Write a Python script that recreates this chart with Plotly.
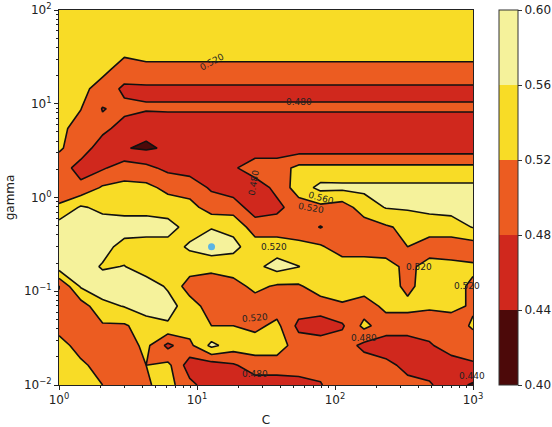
import numpy as np
import plotly.graph_objects as go

# Grid of hyper-parameters
C_range = np.logspace(0, 3, 20).tolist()
gamma_range = np.logspace(-2, 2, 20).tolist()

# Mean scores, one row per gamma value (bottom gamma=0.01 -> top gamma=100)
scores = [
    [.54, .54, .52, .50, .515, .535, .49, .46, .46, .46, .46, .465, .478, .50, .50, .49, .49, .485, .455, .435],
    [.54, .53, .50, .50, .52, .53, .46, .46, .475, .50, .50, .50, .49, .50, .50, .49, .47, .46, .46, .475],
    [.54, .50, .50, .50, .53, .47, .51, .57, .54, .54, .54, .50, .50, .50, .47, .46, .46, .475, .50, .50],
    [.50, .515, .515, .515, .54, .555, .54, .52, .52, .51, .53, .47, .46, .475, .53, .50, .50, .50, .50, .525],
    [.485, .50, .55, .562, .58, .575, .54, .50, .50, .50, .50, .50, .50, .515, .50, .53, .53, .525, .53, .515],
    [.479, .565, .58, .58, .58, .555, .50, .50, .505, .53, .515, .515, .54, .54, .54, .54, .51, .54, .53, .515],
    [.58, .58, .556, .561, .54, .54, .54, .53, .54, .55, .575, .561, .54, .54, .54, .535, .51, .535, .53, .525],
    [.58, .58, .575, .545, .54, .545, .565, .585, .57, .54, .54, .53, .525, .50, .50, .50, .52, .50, .50, .50],
    [.58, .58, .58, .58, .58, .575, .545, .5575, .55, .50, .50, .50, .478, .50, .50, .515, .53, .54, .54, .562],
    [.525, .565, .55, .545, .545, .54, .535, .50, .50, .46, .47, .50, .51, .50, .54, .562, .565, .57, .575, .58],
    [.50, .49, .525, .53, .53, .51, .50, .475, .46, .46, .49, .54, .57, .569, .569, .569, .569, .569, .569, .569],
    [.50, .465, .475, .50, .49, .47, .465, .465, .475, .50, .50, .531, .531, .531, .531, .531, .531, .531, .531, .531],
    [.525, .50, .46, .442, .435, .445, .46] + [.459] * 13,
    [.53, .505, .49, .465, .449] + [.458] * 15,
    [.53, .521, .478, .49] + [.4844] * 16,
    [.53, .53, .505] + [.4715] * 17,
    [.54, .54, .53, .505] + [.514] * 16,
    [.54, .54, .54] + [.53] * 17,
    [.54] * 20,
    [.54] * 20,
]

levels = [0.40, 0.44, 0.48, 0.52, 0.56, 0.60]
band_colors = ["#4c0909", "#d0281d", "#ec5c21", "#f8dc26", "#f5f29b"]
cbar_ticktext = ["0.40", "0.44", "0.48", "0.52", "0.56", "0.60"]

best_C = [C_range[7]]
best_gamma = [gamma_range[7]]

label_C = [12.8, 54.6, 25.8, 78.9, 66.7, 35.9, 404, 901, 26.2, 161, 26.2, 990]
label_gamma = [27.9, 10.4, 1.43, 0.99, 0.773, 0.296, 0.1815, 0.1138, 0.0519, 0.0317, 0.0131, 0.0125]
label_text = ["0.520", "0.480", "0.480", "0.560", "0.520", "0.520", "0.520", "0.520", "0.520", "0.480", "0.480", "0.440"]
label_angle = [-28, 0, -80, 15, 10, 0, 0, 0, -5, 0, 0, 0]

x_tickvals = [1, 10, 100, 1000]
x_ticktext = ["10<sup>0</sup>", "10<sup>1</sup>", "10<sup>2</sup>", "10<sup>3</sup>"]
y_tickvals = [0.01, 0.1, 1, 10, 100]
y_ticktext = ["10<sup>\u22122</sup>", "10<sup>\u22121</sup>", "10<sup>0</sup>", "10<sup>1</sup>", "10<sup>2</sup>"]

x_minor = [m * 10 ** e for e in range(0, 3) for m in range(2, 10)]
y_minor = [m * 10.0 ** e for e in range(-2, 2) for m in range(2, 10)]

# stepped colour scale over [levels[0], levels[-1]]
lo, hi = levels[0], levels[-1]
colorscale = []
for i, c in enumerate(band_colors):
    colorscale.append([(levels[i] - lo) / (hi - lo), c])
    colorscale.append([(levels[i + 1] - lo) / (hi - lo), c])

fig = go.Figure()

# invisible heatmap that carries the colour bar
fig.add_trace(go.Heatmap(
    x=C_range, y=gamma_range, z=scores, opacity=0,
    colorscale=colorscale, zmin=lo, zmax=hi, hoverinfo="skip",
    colorbar=dict(
        thickness=19, len=1, lenmode="fraction", y=0.5, yanchor="middle",
        x=1.062, xanchor="left", xpad=0, ypad=0,
        outlinewidth=1, outlinecolor="#333333",
        tickmode="array", tickvals=levels, ticktext=cbar_ticktext,
        ticks="outside", ticklen=4, tickcolor="#333333",
        ticklabeloverflow="allow",
        tickfont=dict(size=12, color="#222222"),
    ),
))

# filled bands: each level shades the region above it
for lvl, col in zip(levels[1:-1], band_colors[1:]):
    fig.add_trace(go.Contour(
        x=C_range, y=gamma_range, z=scores,
        contours=dict(type="constraint", operation="<", value=lvl),
        fillcolor=col, showscale=False,
        line=dict(color="#111111", width=1.6, smoothing=0),
        hoverinfo="skip",
    ))

fig.add_trace(go.Scatter(
    x=best_C, y=best_gamma, mode="markers",
    marker=dict(color="#5ab4e4", size=7),
    showlegend=False, hoverinfo="skip",
))

annotations = []
for c, g, t, a in zip(label_C, label_gamma, label_text, label_angle):
    annotations.append(dict(
        x=float(np.log10(c)), y=float(np.log10(g)), xref="x", yref="y",
        text=t, showarrow=False, textangle=a,
        font=dict(size=9, color="#222222", family="DejaVu Sans"),
    ))

axis_common = dict(
    showline=True, linecolor="#222222", linewidth=1, mirror=True,
    ticks="outside", ticklen=4, tickcolor="#222222", showgrid=False,
    zeroline=False, tickfont=dict(size=12, color="#222222"),
    ticklabeloverflow="allow",
)

fig.update_layout(
    width=552, height=427,
    margin=dict(l=59, r=79, t=10, b=42, autoexpand=False),
    paper_bgcolor="white", plot_bgcolor=band_colors[0],
    font=dict(family="DejaVu Sans", color="#222222"),
    showlegend=False,
    annotations=annotations,
    xaxis=dict(type="log", range=[0, 3], tickmode="array", tickvals=x_tickvals, ticktext=x_ticktext,
               title=dict(text="C", font=dict(size=12), standoff=10),
               minor=dict(tickmode="array", tickvals=x_minor, ticks="outside", ticklen=2,
                          tickcolor="#222222", showgrid=False),
               **axis_common),
    yaxis=dict(type="log", range=[-2, 2], tickmode="array", tickvals=y_tickvals, ticktext=y_ticktext,
               title=dict(text="gamma", font=dict(size=12), standoff=6),
               minor=dict(tickmode="array", tickvals=y_minor, ticks="outside", ticklen=2,
                          tickcolor="#222222", showgrid=False),
               **axis_common),
)

# place the figure at the page's top-left corner (no default body margin)
fig.write_html(
    "out.html",
    config={"displayModeBar": False, "staticPlot": True},
    post_script="document.body.style.margin='0px';document.body.style.overflow='hidden';",
)
